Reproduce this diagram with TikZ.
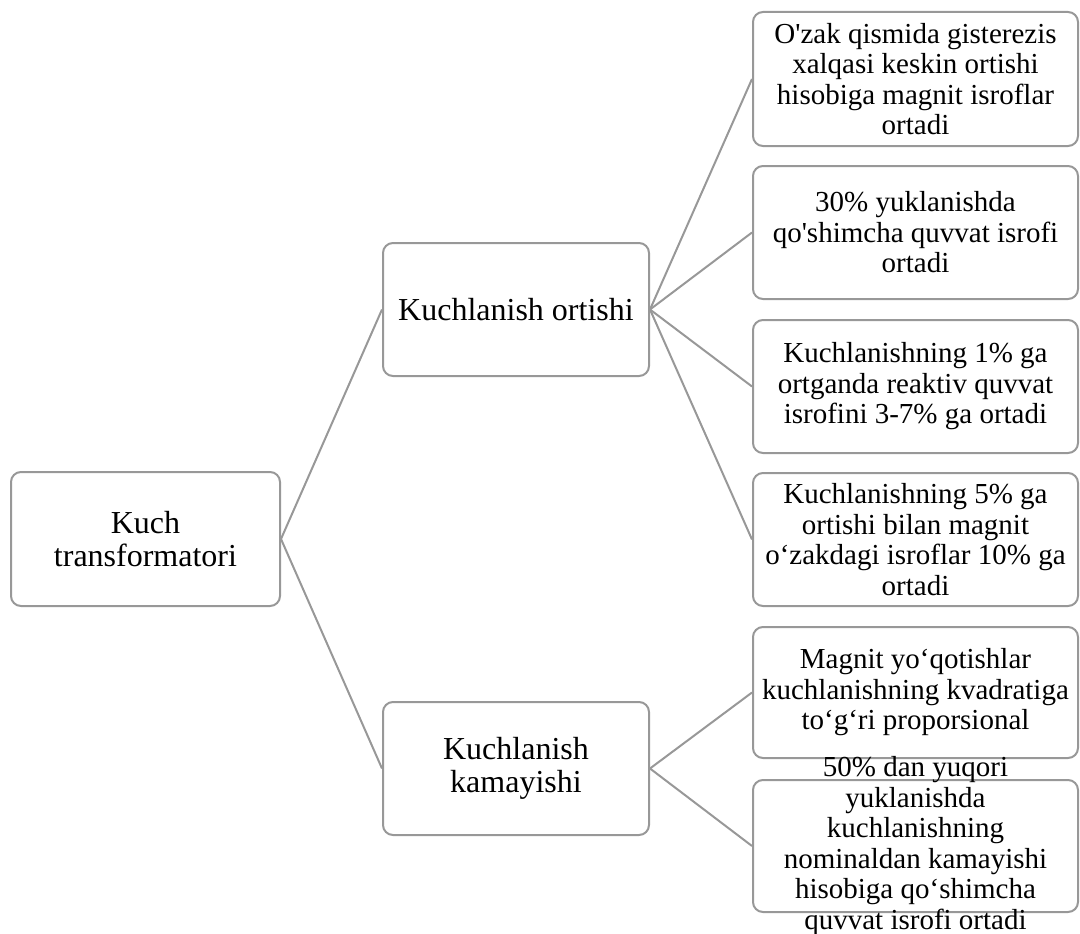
\documentclass[tikz,border=0pt]{standalone}
\usepackage{fontspec}
\setmainfont{Liberation Serif}
\definecolor{boxgray}{RGB}{152,152,152}
\begin{document}
\begin{tikzpicture}[x=1pt,y=-1pt,
  box/.style={draw=boxgray, line width=2pt, rounded corners=10pt, fill=white,
              align=center, inner sep=0pt},
  bigtext/.style={font=\fontsize{32}{33}\selectfont},
  smalltext/.style={font=\fontsize{29}{30.5}\selectfont},
  rbox/.style={box, smalltext, minimum width=325pt},
  mbox/.style={box, bigtext, minimum width=266pt, minimum height=133pt},
  conn/.style={draw=boxgray, line width=2pt}]
\useasboundingbox (0,0) rectangle (1080,934);

\node[box, bigtext, minimum width=269pt, minimum height=134pt] (root) at (145.5,539) {Kuch\\transformatori};
\node[mbox] (m1) at (516,309.5) {Kuchlanish ortishi};
\node[mbox] (m2) at (516,768.5) {Kuchlanish\\kamayishi};

\node[rbox, minimum height=134pt] (r1) at (915.5,79) {O\textquotesingle zak qismida gisterezis\\xalqasi keskin ortishi\\hisobiga magnit isroflar\\ortadi};
\node[rbox, minimum height=133pt] (r2) at (915.5,232.5) {30\% yuklanishda\\qo\textquotesingle shimcha quvvat isrofi\\ortadi};
\node[rbox, minimum height=133pt] (r3) at (915.5,386.5) {Kuchlanishning 1\% ga\\ortganda reaktiv quvvat\\isrofini 3-7\% ga ortadi};
\node[rbox, minimum height=133pt] (r4) at (915.5,539.5) {Kuchlanishning 5\% ga\\ortishi bilan magnit\\o‘zakdagi isroflar 10\% ga\\ortadi};
\node[rbox, minimum height=131pt] (r5) at (915.5,692.5) {Magnit yo‘qotishlar\\kuchlanishning kvadratiga\\to‘g‘ri proporsional};
\node[rbox, minimum height=132pt] (r6) at (915.5,846) {};
\node[smalltext, align=center, inner sep=0pt] (t6) at (r6.center) {50\% dan yuqori\\yuklanishda\\kuchlanishning\\nominaldan kamayishi\\hisobiga qo‘shimcha\\quvvat isrofi ortadi};

\draw[conn] (root.east) -- (m1.west);
\draw[conn] (root.east) -- (m2.west);
\foreach \r in {r1,r2,r3,r4} \draw[conn] (m1.east) -- (\r.west);
\foreach \r in {r5,r6} \draw[conn] (m2.east) -- (\r.west);
\end{tikzpicture}
\end{document}
